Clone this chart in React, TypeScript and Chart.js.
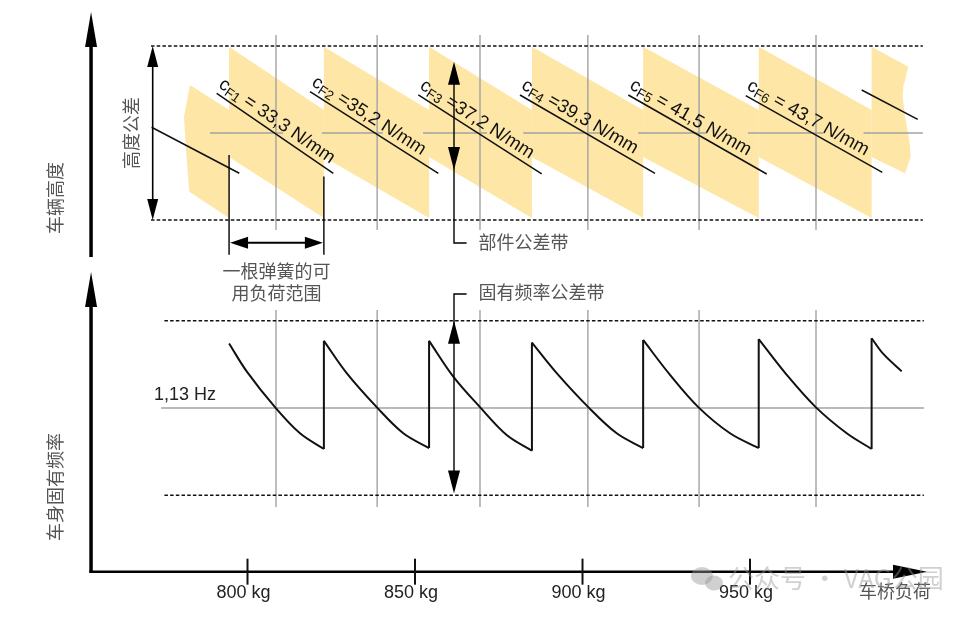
import { useEffect, useRef } from 'react';
import { Chart, registerables } from 'chart.js';

Chart.register(...registerables);

// ---------------- data (x: axle load in kg, upper y: height in mm, lower y: frequency in Hz) ----------------
const X_TICKS = [800, 850, 900, 950];
const X_TICK_UNIT = 'kg';
const GRID_KG = [808.5, 838.7, 869.4, 901.6, 934.8, 969.7];
const SPRING_CHANGE_KG = [794.5, 822.8, 854.2, 884.9, 918.1, 952.6, 986.3];
const HEIGHT_TOL_MM = [10, -10];
const HEIGHT_DASH_KG = [771.2, 1001.6];
const BAND_TOP_MM = [9.9, 2.64]; // top edge of a band at start / end of its load range
const BAND_BOTTOM_MM = [-2.76, -9.77]; // bottom edge at start / end
const BAND_HEAD = [
  [782.84, 5.52],
  [781.04, 1.87],
  [781.64, -1.95],
  [782.63, -6.75],
];
const BAND_TAIL = [
  [997.25, 7.62],
  [995.76, 5.32],
  [995.58, 4.17],
  [996.27, 1.87],
  [997.55, -0.8],
  [997.97, -2.72],
  [996.27, -4.63],
];
const HEIGHT_REF_SEGMENTS_KG = [
  [788.8, 810.6],
  [822.2, 840.4],
  [852.4, 871.5],
  [882.3, 905.2],
  [916.6, 937.2],
  [949.4, 971.9],
  [983.9, 1001.6],
];
const SPRING_LINES = [
  [[771.37, 0.66], [797.55, -4.63]],
  [[790.81, 4.56], [825.61, -4.63]],
  [[818.66, 4.75], [856.96, -4.63]],
  [[850.99, 4.37], [887.82, -4.71]],
  [[881.34, 4.37], [921.64, -4.63]],
  [[913.67, 4.37], [954.98, -4.71]],
  [[948.72, 4.29], [989.49, -4.52]],
  [[983.34, 4.94], [1000.06, 1.57]],
];
const CF_SUBS = ['F1', 'F2', 'F3', 'F4', 'F5', 'F6'];
const CF_TEXTS = [' = 33,3 N/mm', ' =35,2 N/mm', ' =37,2 N/mm', ' =39,3 N/mm', ' = 41,5 N/mm', ' = 43,7 N/mm'];

const FREQ_REF_HZ = 1.13;
const FREQ_REF_LABEL = '1,13 Hz';
const FREQ_TOL_HZ = [1.23, 1.03];
const FREQ_DASH_KG = [775.2, 1001.9];
const FREQ_REF_KG = [774.2, 1001.9];
const FREQ_CURVES = [
  [[794.5, 1.204], [799.76, 1.172], [808.21, 1.131], [815.67, 1.101], [822.8, 1.083]],
  [[822.8, 1.207], [829.61, 1.17], [838.57, 1.131], [846.51, 1.101], [854.2, 1.084]],
  [[854.2, 1.207], [861.43, 1.166], [869.4, 1.131], [877.37, 1.099], [884.9, 1.081]],
  [[884.9, 1.205], [892.3, 1.17], [901.73, 1.131], [910.21, 1.101], [918.1, 1.084]],
  [[918.1, 1.208], [926.12, 1.168], [934.57, 1.131], [944.03, 1.101], [952.6, 1.084]],
  [[952.6, 1.209], [960.96, 1.168], [969.61, 1.131], [978.87, 1.101], [986.3, 1.083]],
  [[986.3, 1.21], [989.79, 1.192], [995.28, 1.172]],
];

// annotation anchors (data units)
const AXIS_KG = 753.3;
const AXIS_HZ = 0.9423;
const AXIS_END_KG = 1002.84;
const UPPER_AXIS_MM = [-14.25, 13.91];
const LOWER_AXIS_TOP_HZ = 1.286;
const HEIGHT_TOL_ARROW_KG = 771.7;
const LOAD_RANGE_MM = -12.61;
const LOAD_MARK_MM = [[-2.53, -14.0], [-5.0, -14.0]];
const TOL_ARROW_KG = 861.64;
const TOL_LEADER_KG = 865.4;
const PART_TOL_MM = [8.2, -4.25, -12.64];
const FREQ_TOL_ARROW_HZ = [1.2607, 1.23, 1.032];

// scale windows
const X_RANGE = [726.12, 1017.16];
const H_RANGE = [-55.63, 15.287];
const F_RANGE = [0.89032, 1.59789];

// ---------------- styles ----------------
const YELLOW = '#FDE6A6';
const GRID_GRAY = '#A3A3A3';
const LATIN = '"Liberation Sans", Arial, sans-serif';
const CJK = '"Noto Sans CJK SC", sans-serif';
const CJK_COLOR = '#555555';

type P = { x: number; y: number | null };
const pts = (arr: number[][]): P[] => arr.map(([x, y]) => ({ x, y }));
const segs = (list: number[][][]): P[] =>
  list.flatMap((s) => [...pts(s), { x: s[s.length - 1][0], y: null }]);

function buildBands(): number[][][] {
  const out: number[][][] = [];
  const b = SPRING_CHANGE_KG;
  out.push([
    BAND_HEAD[0],
    [b[0], BAND_TOP_MM[1]],
    [b[0], BAND_BOTTOM_MM[1]],
    BAND_HEAD[3],
    BAND_HEAD[2],
    BAND_HEAD[1],
  ]);
  for (let i = 0; i < b.length - 1; i++) {
    out.push([
      [b[i], BAND_TOP_MM[0]],
      [b[i + 1], BAND_TOP_MM[1]],
      [b[i + 1], BAND_BOTTOM_MM[1]],
      [b[i], BAND_BOTTOM_MM[0]],
    ]);
  }
  const last = b[b.length - 1];
  out.push([[last, BAND_TOP_MM[0]], ...BAND_TAIL, [last, BAND_BOTTOM_MM[0]]]);
  return out;
}

function arrowHead(ctx: CanvasRenderingContext2D, tx: number, ty: number, fx: number, fy: number, len: number, hw: number) {
  const dx = tx - fx;
  const dy = ty - fy;
  const d = Math.hypot(dx, dy) || 1;
  const ux = dx / d;
  const uy = dy / d;
  const bx = tx - ux * len;
  const by = ty - uy * len;
  ctx.beginPath();
  ctx.moveTo(tx, ty);
  ctx.lineTo(bx - uy * hw, by + ux * hw);
  ctx.lineTo(bx + uy * hw, by - ux * hw);
  ctx.closePath();
  ctx.fill();
}

function stroke(ctx: CanvasRenderingContext2D, coords: number[][], w: number) {
  ctx.lineWidth = w;
  ctx.beginPath();
  coords.forEach(([x, y], i) => (i ? ctx.lineTo(x, y) : ctx.moveTo(x, y)));
  ctx.stroke();
}

const decor = {
  id: 'decor',
  afterDatasetsDraw(chart: any) {
    const ctx: CanvasRenderingContext2D = chart.ctx;
    const X = (v: number) => chart.scales.x.getPixelForValue(v);
    const H = (v: number) => chart.scales.yH.getPixelForValue(v);
    const F = (v: number) => chart.scales.yF.getPixelForValue(v);
    ctx.save();
    ctx.strokeStyle = '#000';
    ctx.fillStyle = '#000';
    ctx.lineCap = 'butt';

    // main axes
    const ax = X(AXIS_KG);
    const ay = F(AXIS_HZ);
    const upTop = H(UPPER_AXIS_MM[1]);
    stroke(ctx, [[ax, H(UPPER_AXIS_MM[0])], [ax, upTop + 30]], 3.5);
    arrowHead(ctx, ax, upTop, ax, upTop + 10, 35, 6);
    const loTop = F(LOWER_AXIS_TOP_HZ);
    stroke(ctx, [[ax, ay + 1.2], [ax, loTop + 30]], 3.5);
    arrowHead(ctx, ax, loTop, ax, loTop + 10, 35, 6);
    const xEnd = X(AXIS_END_KG);
    stroke(ctx, [[ax - 1.7, ay], [xEnd - 30, ay]], 2.5);
    arrowHead(ctx, xEnd, ay, xEnd - 10, ay, 34, 7);

    // x ticks
    ctx.font = `18px ${LATIN}`;
    ctx.textAlign = 'center';
    ctx.textBaseline = 'alphabetic';
    ctx.fillStyle = '#222';
    X_TICKS.forEach((t) => {
      const tx = X(t);
      ctx.strokeStyle = '#111';
      stroke(ctx, [[tx, ay - 13], [tx, ay + 13]], 2);
      ctx.fillText(`${t} ${X_TICK_UNIT}`, tx - 4, ay + 26.5);
    });
    ctx.fillStyle = '#000';
    ctx.strokeStyle = '#000';

    // height tolerance double arrow
    const hx = X(HEIGHT_TOL_ARROW_KG);
    const ht = H(HEIGHT_TOL_MM[0]);
    const hb = H(HEIGHT_TOL_MM[1]);
    stroke(ctx, [[hx, ht + 18], [hx, hb - 18]], 1.6);
    arrowHead(ctx, hx, ht, hx, ht + 10, 21, 5.5);
    arrowHead(ctx, hx, hb, hx, hb - 10, 21, 5.5);

    // load range of one spring
    const lx1 = X(SPRING_CHANGE_KG[0]);
    const lx2 = X(SPRING_CHANGE_KG[1]);
    const ly = H(LOAD_RANGE_MM);
    stroke(ctx, [[lx1, H(LOAD_MARK_MM[0][0])], [lx1, H(LOAD_MARK_MM[0][1])]], 1.4);
    stroke(ctx, [[lx2, H(LOAD_MARK_MM[1][0])], [lx2, H(LOAD_MARK_MM[1][1])]], 1.4);
    stroke(ctx, [[lx1 + 15, ly], [lx2 - 15, ly]], 2);
    arrowHead(ctx, lx1 + 1, ly, lx1 + 10, ly, 18, 6);
    arrowHead(ctx, lx2 - 1, ly, lx2 - 10, ly, 18, 6);

    // part tolerance arrow
    const tx = X(TOL_ARROW_KG);
    const tlx = X(TOL_LEADER_KG);
    const pTop = H(PART_TOL_MM[0]);
    const pBot = H(PART_TOL_MM[1]);
    const pLead = H(PART_TOL_MM[2]);
    stroke(ctx, [[tx, pTop + 18], [tx, pLead], [tlx, pLead]], 1.4);
    arrowHead(ctx, tx, pTop, tx, pTop + 10, 23, 6);
    arrowHead(ctx, tx, pBot, tx, pBot - 10, 23, 6);

    // frequency tolerance arrow
    const fLead = F(FREQ_TOL_ARROW_HZ[0]);
    const fTop = F(FREQ_TOL_ARROW_HZ[1]);
    const fBot = F(FREQ_TOL_ARROW_HZ[2]);
    stroke(ctx, [[tlx, fLead], [tx, fLead], [tx, fBot - 18]], 1.4);
    arrowHead(ctx, tx, fTop, tx, fTop + 10, 23, 6);
    arrowHead(ctx, tx, fBot, tx, fBot - 10, 23, 6);

    // spring rate labels along the lines
    SPRING_LINES.slice(1, 7).forEach((ln, i) => {
      const x1 = X(ln[0][0]);
      const y1 = H(ln[0][1]);
      const x2 = X(ln[1][0]);
      const y2 = H(ln[1][1]);
      const ang = Math.atan2(y2 - y1, x2 - x1);
      ctx.save();
      ctx.translate(x1, y1);
      ctx.rotate(ang);
      ctx.translate(-3, -6);
      ctx.fillStyle = '#111';
      ctx.textAlign = 'left';
      ctx.textBaseline = 'alphabetic';
      ctx.font = `18.5px ${LATIN}`;
      ctx.fillText('c', 0, 0);
      let w = ctx.measureText('c').width;
      ctx.font = `13.5px ${LATIN}`;
      ctx.fillText(CF_SUBS[i], w, 3);
      w += ctx.measureText(CF_SUBS[i]).width;
      ctx.font = `18.5px ${LATIN}`;
      ctx.fillText(CF_TEXTS[i], w, 0);
      ctx.restore();
    });

    // reference frequency label
    ctx.fillStyle = '#222';
    ctx.font = `18px ${LATIN}`;
    ctx.textAlign = 'left';
    ctx.textBaseline = 'alphabetic';
    ctx.fillText(FREQ_REF_LABEL, 154, F(FREQ_REF_HZ) - 8);

    // chinese labels
    ctx.fillStyle = CJK_COLOR;
    ctx.font = `18px ${CJK}`;
    const vtext = (s: string, cx: number, cy: number) => {
      ctx.save();
      ctx.translate(cx, cy);
      ctx.rotate(-Math.PI / 2);
      ctx.textAlign = 'center';
      ctx.textBaseline = 'middle';
      ctx.fillText(s, 0, 0);
      ctx.restore();
    };
    vtext('车辆高度', 55, 198);
    vtext('高度公差', 131, (ht + hb) / 2);
    vtext('车身固有频率', 55, 487);
    ctx.textAlign = 'center';
    ctx.textBaseline = 'middle';
    ctx.fillText('一根弹簧的可', (lx1 + lx2) / 2, ly + 28);
    ctx.fillText('用负荷范围', (lx1 + lx2) / 2, ly + 50);
    ctx.textAlign = 'left';
    ctx.fillText('部件公差带', tlx + 12, pLead - 1);
    ctx.fillText('固有频率公差带', tlx + 12, fLead - 2);
    ctx.textAlign = 'right';
    ctx.fillText('车桥负荷', 931, ay + 19);

    // watermark
    ctx.fillStyle = 'rgba(150,150,150,0.45)';
    ctx.beginPath();
    ctx.ellipse(702, 576, 11, 9, 0, 0, Math.PI * 2);
    ctx.fill();
    ctx.beginPath();
    ctx.ellipse(714, 583, 9, 7.5, 0, 0, Math.PI * 2);
    ctx.fill();
    ctx.font = `26px ${CJK}`;
    ctx.textAlign = 'left';
    ctx.textBaseline = 'middle';
    ctx.fillText('公众号 · VAG公园', 728, 578);
    ctx.restore();
  },
};

export default function App() {
  const ref = useRef<HTMLCanvasElement | null>(null);
  useEffect(() => {
    if (!ref.current) return;
    const bands = buildBands();
    const datasets: any[] = [];
    const base = { pointRadius: 0, pointHoverRadius: 0, pointHitRadius: 0, tension: 0, spanGaps: false };
    bands.forEach((b) =>
      datasets.push({
        ...base,
        data: pts(b),
        yAxisID: 'yH',
        fill: 'shape',
        backgroundColor: YELLOW,
        borderColor: 'rgba(0,0,0,0)',
        borderWidth: 0,
        order: 100,
      })
    );
    datasets.push({
      ...base,
      data: segs(GRID_KG.map((g) => [[g, 11.26], [g, -11.15]])),
      yAxisID: 'yH',
      borderColor: GRID_GRAY,
      borderWidth: 1.4,
      order: 90,
    });
    datasets.push({
      ...base,
      data: segs(HEIGHT_REF_SEGMENTS_KG.map(([a, b]) => [[a, 0], [b, 0]])),
      yAxisID: 'yH',
      borderColor: GRID_GRAY,
      borderWidth: 1.4,
      order: 89,
    });
    datasets.push({
      ...base,
      data: segs(GRID_KG.map((g) => [[g, 1.2424], [g, 1.0165]])),
      yAxisID: 'yF',
      borderColor: GRID_GRAY,
      borderWidth: 1.4,
      order: 90,
    });
    datasets.push({
      ...base,
      data: pts([[FREQ_REF_KG[0], FREQ_REF_HZ], [FREQ_REF_KG[1], FREQ_REF_HZ]]),
      yAxisID: 'yF',
      borderColor: GRID_GRAY,
      borderWidth: 1.4,
      order: 89,
    });
    datasets.push({
      ...base,
      data: segs(HEIGHT_TOL_MM.map((v) => [[HEIGHT_DASH_KG[0], v], [HEIGHT_DASH_KG[1], v]])),
      yAxisID: 'yH',
      borderColor: '#111',
      borderWidth: 1.6,
      borderDash: [3.5, 2.2],
      order: 70,
    });
    datasets.push({
      ...base,
      data: segs(FREQ_TOL_HZ.map((v) => [[FREQ_DASH_KG[0], v], [FREQ_DASH_KG[1], v]])),
      yAxisID: 'yF',
      borderColor: '#111',
      borderWidth: 1.6,
      borderDash: [3.5, 2.2],
      order: 70,
    });
    datasets.push({
      ...base,
      data: segs(SPRING_LINES),
      yAxisID: 'yH',
      borderColor: '#111',
      borderWidth: 1.5,
      order: 60,
    });
    FREQ_CURVES.forEach((c) =>
      datasets.push({
        ...base,
        data: pts(c),
        yAxisID: 'yF',
        borderColor: '#111',
        borderWidth: 2,
        tension: 0.35,
        order: 50,
      })
    );
    const jumps: number[][][] = [];
    for (let i = 1; i < FREQ_CURVES.length; i++) {
      const prev = FREQ_CURVES[i - 1][FREQ_CURVES[i - 1].length - 1];
      const next = FREQ_CURVES[i][0];
      jumps.push([[next[0], prev[1]], [next[0], next[1]]]);
    }
    datasets.push({
      ...base,
      data: segs(jumps),
      yAxisID: 'yF',
      borderColor: '#111',
      borderWidth: 2,
      borderJoinStyle: 'miter',
      order: 50,
    });

    const chart = new Chart(ref.current, {
      type: 'line',
      data: { datasets },
      options: {
        responsive: false,
        animation: false,
        events: [],
        layout: { padding: 0 },
        plugins: { legend: { display: false }, tooltip: { enabled: false } },
        scales: {
          x: { type: 'linear', min: X_RANGE[0], max: X_RANGE[1], display: false },
          yH: { type: 'linear', min: H_RANGE[0], max: H_RANGE[1], display: false },
          yF: { type: 'linear', min: F_RANGE[0], max: F_RANGE[1], display: false },
        },
      },
      plugins: [decor],
    } as any);
    return () => chart.destroy();
  }, []);
  return (
    <div style={{ position: 'fixed', left: 0, top: 0, width: 975, height: 617, background: '#fff' }}>
      <canvas ref={ref} width={975} height={617} style={{ display: 'block', width: 975, height: 617 }} />
    </div>
  );
}
